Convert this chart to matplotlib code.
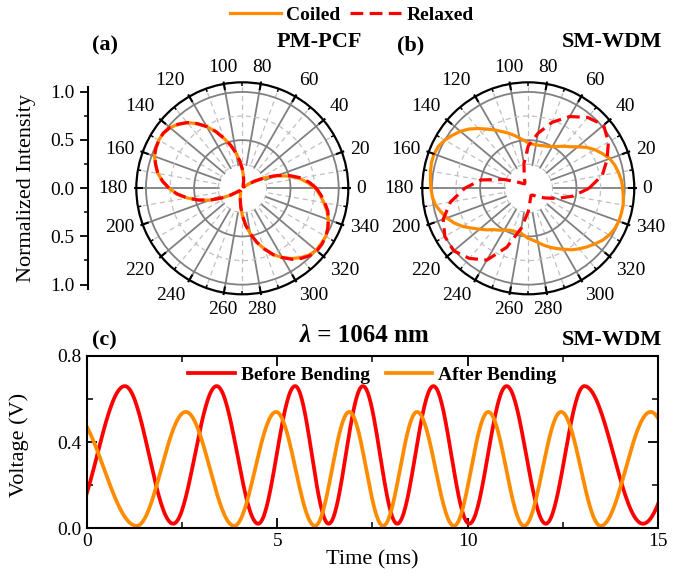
import numpy as np
import matplotlib
matplotlib.use('Agg')
import matplotlib.pyplot as plt
from matplotlib.ticker import FixedLocator, MultipleLocator

plt.rcParams['font.family'] = 'Liberation Serif'
plt.rcParams['font.size'] = 14

ORANGE = '#FF8C00'
RED = '#FF0000'

# polar data (degrees -> normalized intensity)
angles_fine = np.arange(0, 361, 5)      # smooth curves, every 5 deg
angles_coarse = np.arange(0, 361, 10)   # relaxed SM-WDM, every 10 deg

pm_coiled = [0.76, 0.68, 0.60, 0.49, 0.38, 0.26, 0.15, 0.07, 0.03, 0.02, 0.02, 0.02,
             0.02, 0.02, 0.03, 0.04, 0.08, 0.13, 0.20, 0.28, 0.37, 0.46, 0.55, 0.65,
             0.74, 0.82, 0.89, 0.94, 0.98, 1.00, 1.00, 0.99, 0.97, 0.93, 0.89, 0.83,
             0.76, 0.68, 0.58, 0.47, 0.36, 0.24, 0.14, 0.07, 0.04, 0.04, 0.04, 0.04,
             0.04, 0.04, 0.05, 0.08, 0.12, 0.19, 0.28, 0.38, 0.48, 0.58, 0.67, 0.76,
             0.83, 0.89, 0.94, 0.98, 1.00, 1.00, 1.00, 0.98, 0.95, 0.91, 0.86, 0.81, 0.76]
pm_relaxed = [0.77, 0.70, 0.62, 0.51, 0.39, 0.27, 0.15, 0.07, 0.03, 0.02, 0.02, 0.02,
              0.02, 0.02, 0.03, 0.04, 0.08, 0.13, 0.20, 0.28, 0.37, 0.46, 0.55, 0.65,
              0.74, 0.82, 0.89, 0.94, 0.98, 1.00, 1.00, 0.99, 0.97, 0.93, 0.89, 0.83,
              0.76, 0.68, 0.58, 0.47, 0.36, 0.24, 0.14, 0.07, 0.04, 0.04, 0.04, 0.04,
              0.04, 0.04, 0.05, 0.08, 0.12, 0.19, 0.28, 0.38, 0.48, 0.58, 0.67, 0.76,
              0.83, 0.90, 0.95, 0.99, 1.01, 1.01, 1.00, 0.98, 0.95, 0.92, 0.87, 0.82, 0.77]
sm_coiled = [0.98, 0.97, 0.95, 0.93, 0.90, 0.85, 0.80, 0.74, 0.67, 0.61, 0.57, 0.53,
             0.50, 0.48, 0.47, 0.46, 0.46, 0.46, 0.47, 0.50, 0.53, 0.57, 0.61, 0.65,
             0.70, 0.75, 0.81, 0.87, 0.92, 0.96, 1.00, 1.03, 1.04, 1.04, 1.03, 1.02,
             1.01, 1.00, 0.98, 0.94, 0.90, 0.85, 0.79, 0.72, 0.66, 0.61, 0.56, 0.53,
             0.50, 0.48, 0.47, 0.47, 0.47, 0.49, 0.52, 0.54, 0.57, 0.61, 0.65, 0.69,
             0.73, 0.78, 0.82, 0.86, 0.90, 0.94, 0.97, 0.99, 1.00, 1.00, 1.00, 0.99, 0.98]
sm_relaxed = [0.63, 0.78, 0.87, 0.96, 1.02, 0.96, 0.86, 0.73, 0.58, 0.44, 0.26, 0.12,
              0.07, 0.06, 0.08, 0.13, 0.27, 0.50, 0.66, 0.82, 0.94, 1.00, 1.01, 0.95,
              0.86, 0.65, 0.42, 0.24, 0.12, 0.08, 0.08, 0.10, 0.14, 0.20, 0.31, 0.47, 0.63]
angle_labels = [str(a) for a in range(0, 360, 20)]

# time trace: turning points (ms, V), first/last lie just outside 0..15 ms
t_before = [-0.45, 1.00, 2.27, 3.41, 4.50, 5.47, 6.35, 7.25, 8.15, 9.10, 10.04,
            11.02, 12.05, 13.06, 14.60, 16.20]
v_before = [0.02, 0.66, 0.02, 0.66, 0.02, 0.66, 0.02, 0.66, 0.02, 0.66, 0.02,
            0.66, 0.02, 0.66, 0.02, 0.66]
t_after = [-0.40, 1.31, 2.60, 3.87, 4.97, 5.99, 6.89, 7.78, 8.67, 9.64, 10.54,
           11.48, 12.45, 13.49, 14.80, 16.10]
v_after = [0.54, 0.01, 0.54, 0.01, 0.54, 0.01, 0.54, 0.01, 0.54, 0.01, 0.54,
           0.01, 0.54, 0.01, 0.54, 0.01]


def wave(t_ext, v_ext, n=40):
    # cosine-shaped half cycles between the turning points
    ts, vs = [], []
    for i in range(len(t_ext) - 1):
        s = np.linspace(0, 1, n, endpoint=False)
        ts.append(t_ext[i] + s * (t_ext[i + 1] - t_ext[i]))
        vs.append(v_ext[i] + (v_ext[i + 1] - v_ext[i]) * (1 - np.cos(np.pi * s)) / 2)
    ts.append([t_ext[-1]])
    vs.append([v_ext[-1]])
    return np.concatenate(ts), np.concatenate(vs)


def polar_panel(ax, ang_c, coiled, ang_r, relaxed):
    ax.set_ylim(0, 1.1)
    ax.set_xticks(np.deg2rad(np.arange(0, 360, 20)))
    ax.set_xticklabels([])
    ax.xaxis.set_minor_locator(FixedLocator(np.deg2rad(np.arange(10, 360, 20))))
    ax.set_yticks([0.5, 1.0])
    ax.set_yticklabels([])
    ax.yaxis.set_minor_locator(FixedLocator([0.25, 0.75]))
    ax.set_axisbelow(True)
    ax.grid(which='major', color='#808080', ls='-', lw=1.3)
    ax.grid(which='minor', color='#c0c0c0', ls=(0, (4, 3)), lw=0.9)
    ax.tick_params(axis='both', which='both', length=0)
    ax.spines['polar'].set_linewidth(1.6)
    ring = np.linspace(0, 2 * np.pi, 200)
    ax.fill_between(ring, 0, 0.24, color='white', lw=0, zorder=1)
    # tick marks on the outer ring
    for a in range(0, 360, 10):
        th = np.deg2rad(a)
        r0 = 1.035 if a % 20 == 0 else 1.065
        r1 = 1.125 if a % 20 == 0 else 1.1
        ax.plot([th, th], [r0, r1], color='black', lw=1.5 if a % 20 == 0 else 1.1,
                clip_on=False, zorder=5, solid_capstyle='butt')
    l1, = ax.plot(np.deg2rad(ang_c), coiled, color=ORANGE, lw=2.3, zorder=3,
                  label='Coiled')
    l2, = ax.plot(np.deg2rad(ang_r), relaxed, color=RED, lw=2.3, ls=(0, (4, 2)),
                  zorder=4, label='Relaxed')
    for a, lab in zip(range(0, 360, 20), angle_labels):
        c, s = np.cos(np.deg2rad(a)), np.sin(np.deg2rad(a))
        ha = 'left' if c > 0.25 else ('right' if c < -0.25 else 'center')
        va = 'bottom' if s > 0.5 else ('top' if s < -0.5 else 'center')
        ax.annotate(lab, xy=(np.deg2rad(a), 1.1), xytext=(6 * c, 6 * s),
                    textcoords='offset points', ha=ha, va=va, fontsize=14,
                    annotation_clip=False)
    return l1, l2


fig = plt.figure(figsize=(6.84, 5.74), dpi=100)

ax_a = fig.add_axes([0.1993, 0.4873, 0.3099, 0.3693], projection='polar')
ax_b = fig.add_axes([0.6174, 0.4873, 0.3099, 0.3693], projection='polar')
h1, h2 = polar_panel(ax_a, angles_fine, pm_coiled, angles_fine, pm_relaxed)
polar_panel(ax_b, angles_fine, sm_coiled, angles_coarse, sm_relaxed)

# radial scale on the left
ax_r = fig.add_axes([0.1287, 0.4959, 0.001, 0.3527])
ax_r.set_ylim(-1.05, 1.05)
ax_r.set_yticks([-1.0, -0.5, 0.0, 0.5, 1.0])
ax_r.set_yticklabels(['1.0', '0.5', '0.0', '0.5', '1.0'])
ax_r.yaxis.set_minor_locator(MultipleLocator(0.25))
ax_r.set_xticks([])
for side in ['top', 'right', 'bottom']:
    ax_r.spines[side].set_visible(False)
ax_r.spines['left'].set_linewidth(1.5)
ax_r.tick_params(axis='y', which='major', direction='out', length=6, width=1.3, labelsize=14)
ax_r.tick_params(axis='y', which='minor', direction='out', length=3, width=1.1)
fig.text(27 / 684, 1 - 188 / 574, 'Normalized Intensity', rotation=90,
         ha='center', va='center', fontsize=16)

fig.text(92 / 684, 1 - 45 / 574, '(a)', fontsize=16, fontweight='bold', va='center')
fig.text(362 / 684, 1 - 42 / 574, 'PM-PCF', fontsize=16, fontweight='bold',
         va='center', ha='right')
fig.text(397 / 684, 1 - 45 / 574, '(b)', fontsize=16, fontweight='bold', va='center')
fig.text(662 / 684, 1 - 42 / 574, 'SM-WDM', fontsize=16, fontweight='bold',
         va='center', ha='right')

fig.legend([h1, h2], ['Coiled', 'Relaxed'], loc='center', ncol=2,
           bbox_to_anchor=(352 / 684, 1 - 15 / 574), frameon=False,
           prop={'weight': 'bold', 'size': 14}, handlelength=2.6,
           handletextpad=0.3, columnspacing=0.5)

# time trace
ax_c = fig.add_axes([0.1268, 0.0801, 0.8355, 0.2997])
tb, vb = wave(t_before, v_before)
ta, va_ = wave(t_after, v_after)
ax_c.plot(tb, vb, color=RED, lw=2.7, label='Before Bending')
ax_c.plot(ta, va_, color=ORANGE, lw=2.7, label='After Bending')
ax_c.set_xlim(0, 15)
ax_c.set_ylim(0, 0.8)
ax_c.xaxis.set_major_locator(MultipleLocator(5))
ax_c.xaxis.set_minor_locator(MultipleLocator(2.5))
ax_c.yaxis.set_major_locator(MultipleLocator(0.4))
ax_c.yaxis.set_minor_locator(MultipleLocator(0.2))
ax_c.tick_params(which='both', direction='in', top=True, right=True, labelsize=14)
ax_c.tick_params(which='major', length=7, width=1.3)
ax_c.tick_params(which='minor', length=4, width=1.1)
for sp in ax_c.spines.values():
    sp.set_linewidth(1.5)
ax_c.set_xlabel('Time (ms)', fontsize=16, labelpad=0)
fig.text(19 / 684, 1 - 445 / 574, 'Voltage (V)', rotation=90,
         ha='center', va='center', fontsize=16)
ax_c.legend(loc='upper center', ncol=2, frameon=False, bbox_to_anchor=(0.5, 1.04),
            prop={'weight': 'bold', 'size': 14}, handlelength=2.4,
            handletextpad=0.3, columnspacing=0.8)
ax_c.text(0.009, 1.093, '(c)', transform=ax_c.transAxes, fontsize=16,
          fontweight='bold', va='center')
ax_c.text(0.392, 1.12, '\u03bb', transform=ax_c.transAxes, fontsize=18,
          fontweight='bold', style='italic', va='center', ha='right')
ax_c.text(0.392, 1.12, ' = 1064 nm', transform=ax_c.transAxes, fontsize=18,
          fontweight='bold', va='center', ha='left')
ax_c.text(1.007, 1.093, 'SM-WDM', transform=ax_c.transAxes, fontsize=16,
          fontweight='bold', va='center', ha='right')

fig.savefig('out.png', dpi=100)
